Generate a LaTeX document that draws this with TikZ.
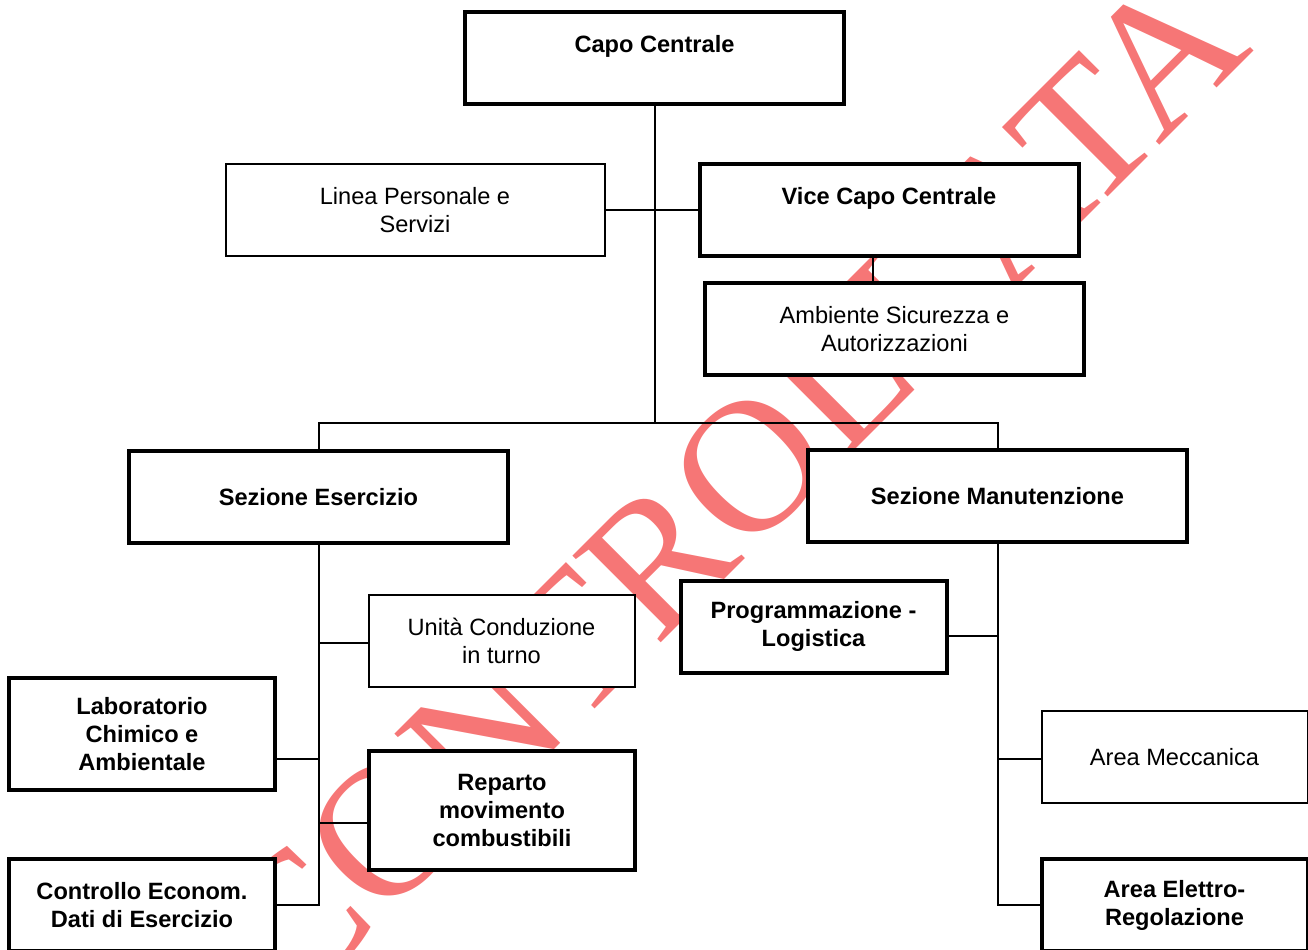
\documentclass[tikz,border=0pt]{standalone}
\usepackage{fontspec}
\setmainfont{Liberation Sans}
\newfontfamily\stampfont{Liberation Serif}
\definecolor{stampred}{RGB}{246,118,118}

\begin{document}
\begin{tikzpicture}[
		x={(0.5pt,0pt)},
		y={(0pt,-0.5pt)},
		box/.style={draw=black,fill=white,line width=1pt,align=center,inner sep=2pt,
			font=\fontsize{11.8}{14}\selectfont},
		heavy/.style={box,line width=2pt},
		chief/.style={heavy,font=\fontsize{11.8}{14}\selectfont\bfseries},
		big/.style={minimum width=189.5pt,minimum height=46pt},
		small/.style={minimum width=133pt,minimum height=46pt},
		link/.style={line width=1pt},
	]
	\clip (0,0) rectangle (1308,949);
	\node[rotate=45,text=stampred,font=\stampfont\fontsize{94.5}{94.5}\selectfont] (stamp) at (730,487) {CONTROLLATA};

	\node[chief,big] (capo) at (654.5,58) {Capo Centrale\\~};
	\node[box,big] (linea) at (415,210) {Linea Personale e\\Servizi};
	\node[chief,big] (vice) at (889,210) {Vice Capo Centrale\\~};
	\node[heavy,big] (amb) at (894.5,329) {Ambiente Sicurezza e\\Autorizzazioni};
	\node[chief,big] (eser) at (318.5,497) {Sezione Esercizio};
	\node[chief,big] (manu) at (997.5,496) {Sezione Manutenzione};

	\node[box,small] (unita) at (501.5,641) {Unità Conduzione\\in turno};
	\node[chief,small,minimum height=56pt] (lab) at (142,734) {Laboratorio\\Chimico e\\Ambientale};
	\node[chief,small,minimum height=59.5pt] (rep) at (502,810.5) {Reparto\\movimento\\combustibili};
	\node[chief,small] (contr) at (142,905) {Controllo Econom.\\Dati di Esercizio};

	\node[chief,small] (prog) at (813.5,626.5) {Programmazione -\\Logistica};
	\node[box,small] (mecc) at (1174.5,757) {Area Meccanica};
	\node[chief,small] (elet) at (1174.5,905) {Area Elettro-\\Regolazione};

	\coordinate (bus) at (652,423);
	\draw[link] (capo.south) -- (capo.south |- bus);
	\draw[link] (eser.north) |- (bus) -| (manu.north);
	\draw[link] (linea.east) -- (vice.west);
	\draw[link] ([xshift=-8pt]vice.south) -- ([xshift=-8pt]vice.south |- amb.north);

	\draw[link] (eser.south) |- (contr.east);
	\foreach \n/\side/\dy in {unita/west/-1pt, lab/east/-12.5pt, rep/west/-6pt}
		\draw[link] ([yshift=\dy]\n.\side) -- ([yshift=\dy]\n.\side -| eser.south);

	\draw[link] (manu.south) |- (elet.west);
	\foreach \n/\side/\dy in {prog/east/-4.5pt, mecc/west/-1pt}
		\draw[link] ([yshift=\dy]\n.\side) -- ([yshift=\dy]\n.\side -| manu.south);
\end{tikzpicture}
\end{document}
